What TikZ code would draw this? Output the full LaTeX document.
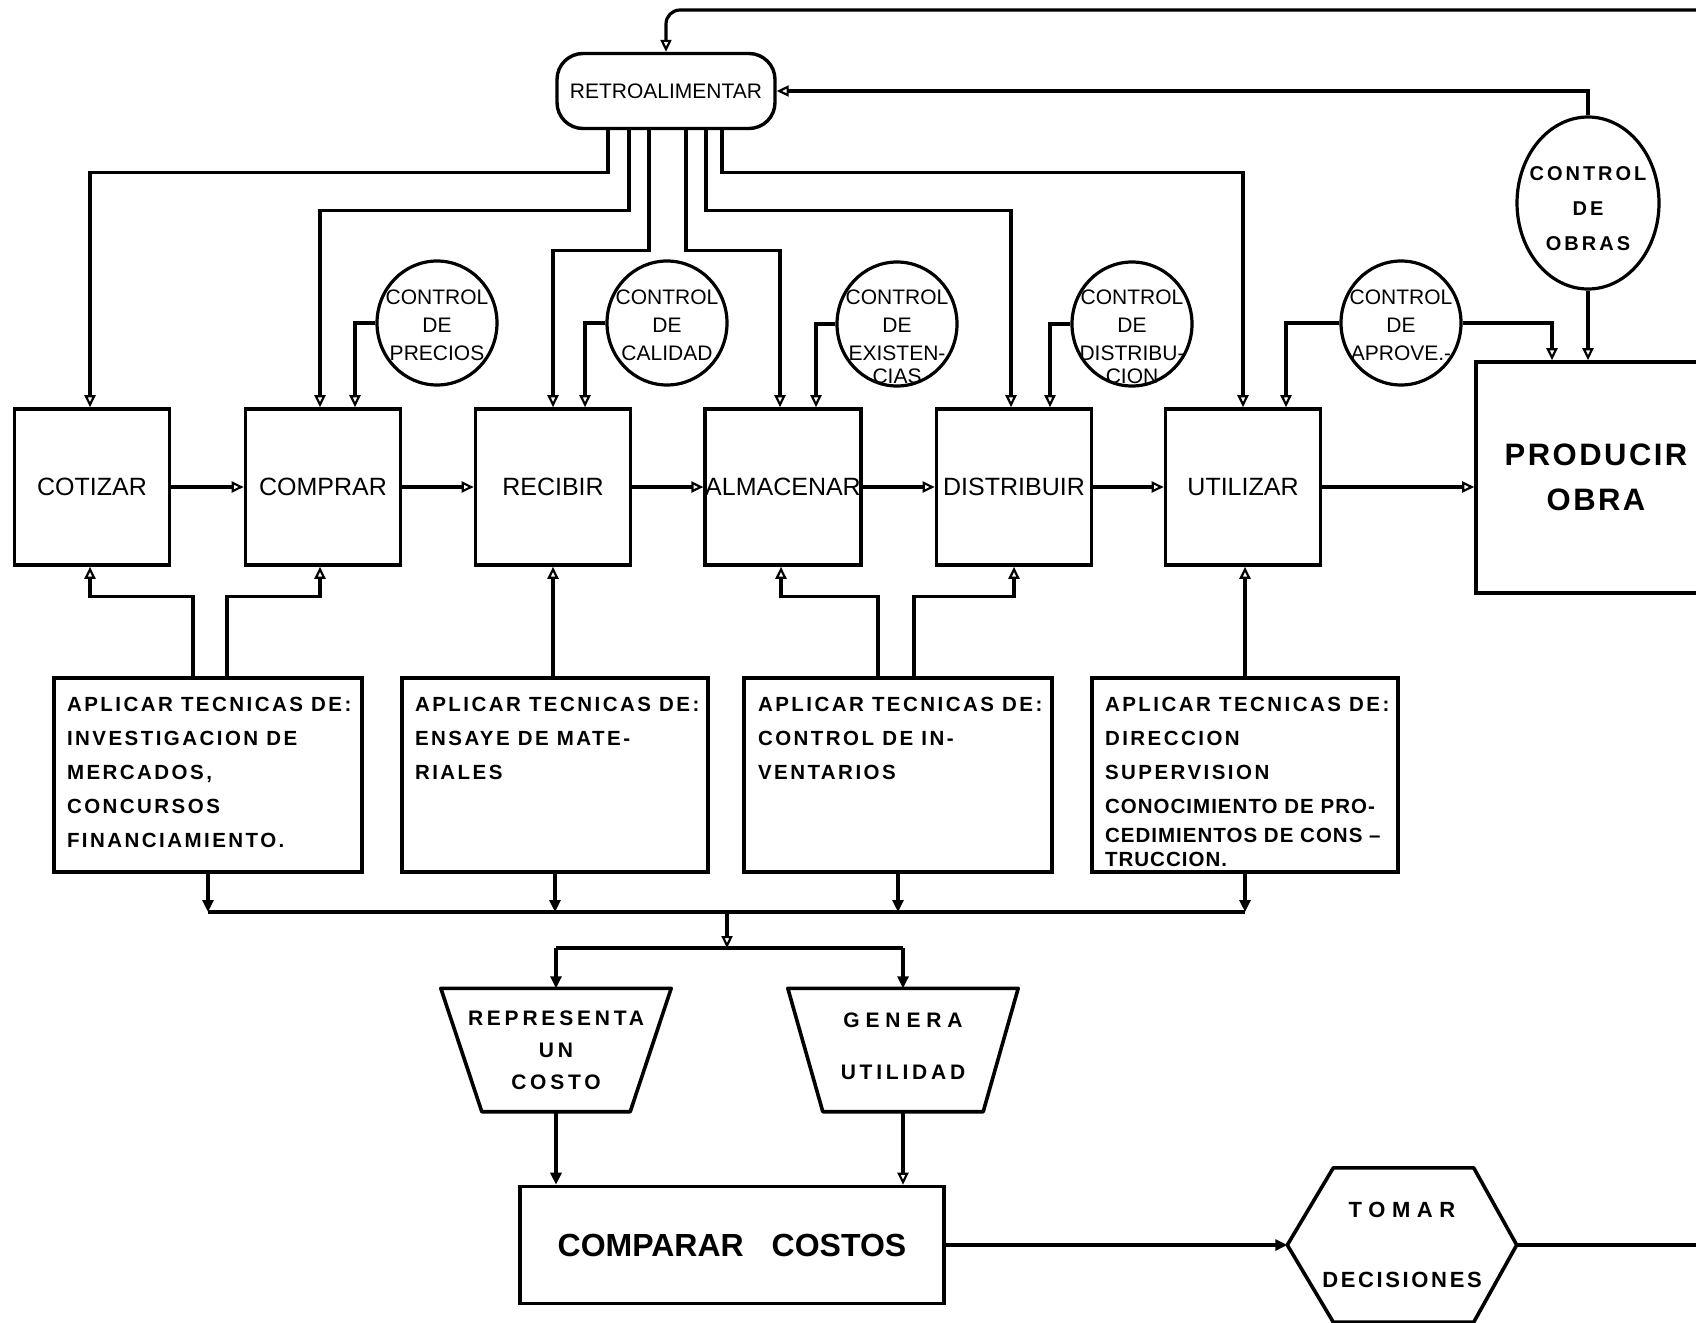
\documentclass[tikz,border=0pt]{standalone}
\usepackage{fontspec}
\setmainfont{Liberation Sans}
\usetikzlibrary{arrows.meta,shapes.geometric}
% zero-size text block: first baseline raised by #1 above the node centre
\newcommand{\ctrltxt}[2]{\raisebox{#1}[0pt][0pt]{\makebox[0pt]{\parbox[t]{220pt}{\centering #2}}}}
\begin{document}
\begin{tikzpicture}[x=1pt,y=-1pt,
  line/.style={line width=3.2pt},
  arr/.style={line width=3.2pt,-{Triangle[open,length=12pt,width=11pt,line width=2.2pt]}},
  farr/.style={line width=3.2pt,-{Triangle[length=12pt,width=11pt]}},
  shapeline/.style={line width=3.6pt,line join=round},
  mainbox/.style={draw,line width=3.6pt,minimum width=155pt,minimum height=156pt,inner sep=0pt,
    font=\fontsize{25}{30}\selectfont},
  retrobox/.style={draw,line width=3.4pt,rounded corners=26pt,minimum width=218pt,minimum height=75pt,
    inner sep=0pt,font=\fontsize{21}{25}\selectfont},
  ctrl/.style={draw,ellipse,line width=3.2pt,minimum width=120pt,minimum height=124pt,inner sep=0pt,
    font=\fontsize{21}{28}\selectfont},
  tbox/.style={draw,line width=3.6pt,inner sep=0pt,
    font=\fontsize{20.5}{34}\selectfont\bfseries\addfontfeature{LetterSpace=12}},
  trapbox/.style={inner sep=0pt,minimum width=230pt,minimum height=123pt,align=center,
    font=\fontsize{21}{32}\selectfont\bfseries\addfontfeature{LetterSpace=18}},
]
\useasboundingbox (0,0) rectangle (1696,1322);
\clip (0,0) rectangle (1696,1322);
\fill[white] (0,0) rectangle (1696,1322);

% feedback node
\node[retrobox] (retro) at (666,91) {RETROALIMENTAR};

% main process row
\node[mainbox] (cotizar)    at (92,487)   {COTIZAR};
\node[mainbox] (comprar)    at (323,487)  {COMPRAR};
\node[mainbox] (recibir)    at (553,487)  {RECIBIR};
\node[mainbox] (almacenar)  at (783,487)  {ALMACENAR};
\node[mainbox] (distribuir) at (1014,487) {DISTRIBUIR};
\node[mainbox] (utilizar)   at (1243,487) {UTILIZAR};
\node[draw,line width=3.6pt,minimum width=240pt,minimum height=231pt,inner sep=0pt,align=center,
  font=\fontsize{31}{45}\selectfont\bfseries\addfontfeature{LetterSpace=8}]
  (producir) at (1596,477.5) {PRODUCIR\\OBRA};

% control circles
\node[ctrl] (cprec) at (437,323)  {\ctrltxt{19pt}{CONTROL\\DE\\PRECIOS}};
\node[ctrl] (ccal)  at (667,323)  {\ctrltxt{19pt}{CONTROL\\DE\\CALIDAD}};
\node[ctrl] (cexi)  at (897,324)  {\ctrltxt{20pt}{CONTROL\\DE\\EXISTEN-\\[-5pt]CIAS}};
\node[ctrl] (cdis)  at (1132,324) {\ctrltxt{20pt}{CONTROL\\DE\\DISTRIBU-\\[-5pt]CION}};
\node[ctrl] (capr)  at (1401,323) {\ctrltxt{19pt}{CONTROL\\DE\\APROVE.-}};
\node[ctrl,minimum width=142pt,minimum height=172pt,
  font=\fontsize{20}{35}\selectfont\bfseries\addfontfeature{LetterSpace=15}]
  (cobras) at (1588,203) {\ctrltxt{23pt}{CONTROL\\DE\\OBRAS}};

% technique boxes
\node[tbox] (t1) at (208,775) {\parbox[c][194pt][t]{308pt}{\vspace*{19pt}\raggedright\leftskip=13pt\relax
  APLICAR TECNICAS DE:\\INVESTIGACION DE\\MERCADOS,\\CONCURSOS\\FINANCIAMIENTO.}};
\node[tbox] (t2) at (555,775) {\parbox[c][194pt][t]{306pt}{\vspace*{19pt}\raggedright\leftskip=13pt\relax
  APLICAR TECNICAS DE:\\ENSAYE DE MATE-\\RIALES}};
\node[tbox] (t3) at (898,775) {\parbox[c][194pt][t]{308pt}{\vspace*{19pt}\raggedright\leftskip=14pt\relax
  APLICAR TECNICAS DE:\\CONTROL DE IN-\\VENTARIOS}};
\node[tbox] (t4) at (1245,775) {\parbox[c][194pt][t]{306pt}{\vspace*{19pt}\raggedright\leftskip=13pt\relax
  APLICAR TECNICAS DE:\\DIRECCION\\SUPERVISION\\
  {\addfontfeature{LetterSpace=5}CONOCIMIENTO DE PRO-}\\[-5pt]
  {\addfontfeature{LetterSpace=5}CEDIMIENTOS DE CONS --}\\[-10pt]
  {\addfontfeature{LetterSpace=5}TRUCCION.}}};

% cost / benefit trapezoids
\node[trapbox] (rep) at (556,1050) {REPRESENTA\\UN\\COSTO};
\node[trapbox] (gen) at (903,1050) {{\addfontfeature{LetterSpace=28}GENERA}\\[20pt]UTILIDAD\\[-24pt]\mbox{}};
\draw[shapeline] (rep.north west) -- (rep.north east) -- ([xshift=-41pt]rep.south east)
  -- ([xshift=41pt]rep.south west) -- cycle;
\draw[shapeline] (gen.north west) -- (gen.north east) -- ([xshift=-35pt]gen.south east)
  -- ([xshift=35pt]gen.south west) -- cycle;

% comparison and decision
\node[draw,line width=3.6pt,minimum width=424pt,minimum height=117pt,inner sep=0pt,
  font=\fontsize{32}{38}\selectfont\bfseries] (comp) at (732,1245) {COMPARAR\hspace{28pt}COSTOS};
\node[inner sep=0pt,minimum width=229pt,minimum height=154pt,align=center,
  font=\fontsize{22}{32}\selectfont\bfseries\addfontfeature{LetterSpace=12}]
  (tomar) at (1402,1245) {{\addfontfeature{LetterSpace=30}TOMAR}\\[38pt]DECISIONES};
\draw[shapeline] (tomar.west) -- ([xshift=46pt]tomar.north west) -- ([xshift=-43pt]tomar.north east)
  -- (tomar.east) -- ([xshift=-43pt]tomar.south east) -- ([xshift=46pt]tomar.south west) -- cycle;

% off-page ends
\coordinate (loopin) at (1710,10);
\coordinate (exitR) at (1710,1245);
\coordinate (busA) at (727,912);
\coordinate (busB) at (727,948);

% feedback loop into RETROALIMENTAR
\draw[arr,rounded corners=14pt] (loopin) -| (retro.north);
\draw[arr] (cobras.north) |- (retro.east);

% feedback branches
\draw[arr] ([xshift=-58pt]retro.south) -- ++(0,42) -| ([xshift=-2pt]cotizar.north);
\draw[arr] ([xshift=-37pt]retro.south) -- ++(0,80) -| ([xshift=-3pt]comprar.north);
\draw[arr] ([xshift=-17pt]retro.south) -- ++(0,120) -| (recibir.north);
\draw[arr] ([xshift=20pt]retro.south) -- ++(0,120) -| ([xshift=-3pt]almacenar.north);
\draw[arr] ([xshift=40pt]retro.south) -- ++(0,80) -| ([xshift=-3pt]distribuir.north);
\draw[arr] ([xshift=56pt]retro.south) -- ++(0,42) -| (utilizar.north);

% control inputs
\draw[arr] (cprec.west) -| ([xshift=32pt]comprar.north);
\draw[arr] (ccal.west) -| ([xshift=32pt]recibir.north);
\draw[arr] (cexi.west) -| ([xshift=33pt]almacenar.north);
\draw[arr] (cdis.west) -| ([xshift=36pt]distribuir.north);
\draw[arr] (capr.west) -| ([xshift=43pt]utilizar.north);
\draw[arr] (capr.east) -| ([xshift=-44pt]producir.north);
\draw[arr] (cobras.south) -- (cobras.south |- producir.north);

% main flow
\draw[arr] (cotizar) -- (comprar);
\draw[arr] (comprar) -- (recibir);
\draw[arr] (recibir) -- (almacenar);
\draw[arr] (almacenar) -- (distribuir);
\draw[arr] (distribuir) -- (utilizar);
\draw[arr] (utilizar.east) -- (utilizar.east -| producir.west);

% techniques feeding the steps
\draw[arr] ([xshift=-15pt]t1.north) -- ++(0,-80) -| ([xshift=-2pt]cotizar.south);
\draw[arr] ([xshift=19pt]t1.north) -- ++(0,-80) -| ([xshift=-3pt]comprar.south);
\draw[arr] ([xshift=-2pt]t2.north) -- ([xshift=-2pt]t2.north |- recibir.south);
\draw[arr] ([xshift=-20pt]t3.north) -- ++(0,-80) -| ([xshift=-2pt]almacenar.south);
\draw[arr] ([xshift=16pt]t3.north) -- ++(0,-80) -| (distribuir.south);
\draw[arr] (t4.north) -- (t4.north |- utilizar.south);

% collecting bus
\draw[farr] (t1.south) -- (t1.south |- busA);
\draw[farr] (t2.south) -- (t2.south |- busA);
\draw[farr] (t3.south) -- (t3.south |- busA);
\draw[farr] (t4.south) -- (t4.south |- busA);
\draw[line] (t1.south |- busA) -- (t4.south |- busA);
\draw[arr] (busA) -- (busB);
\draw[line] (rep.north |- busB) -- (gen.north |- busB);
\draw[farr] (rep.north |- busB) -- (rep.north);
\draw[farr] (gen.north |- busB) -- (gen.north);
\draw[farr] (rep.south) -- (rep.south |- comp.north);
\draw[arr] (gen.south) -- (gen.south |- comp.north);
\draw[farr] (comp.east) -- (tomar.west);
\draw[line] (tomar.east) -- (exitR);
\end{tikzpicture}
\end{document}
